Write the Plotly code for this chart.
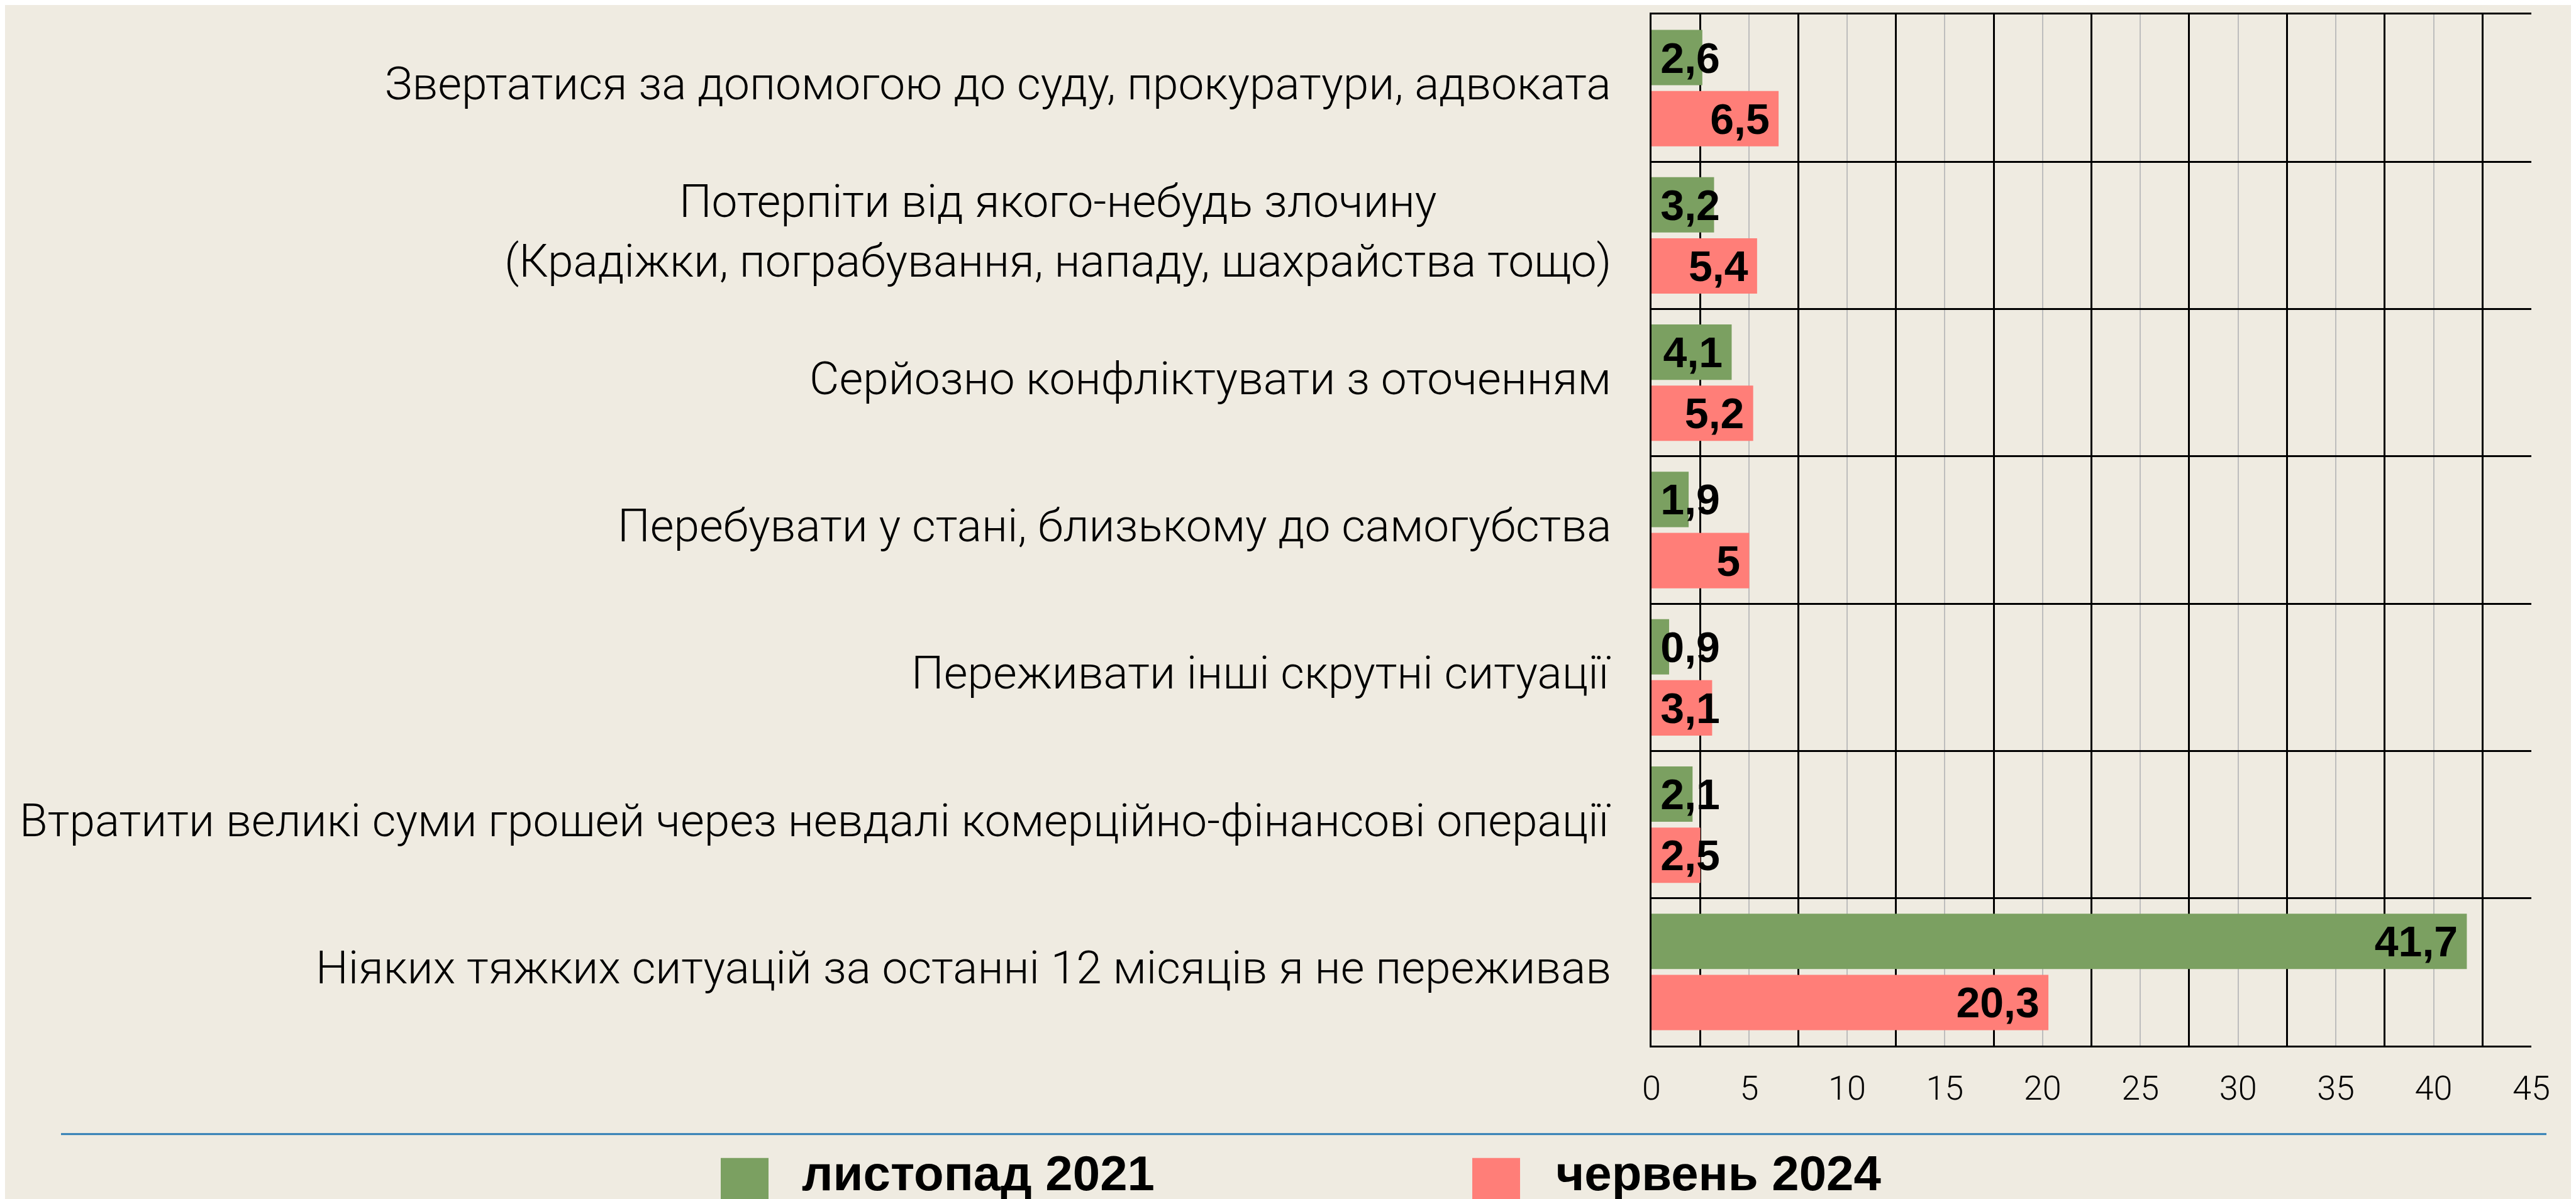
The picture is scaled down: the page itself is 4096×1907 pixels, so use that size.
import plotly.graph_objects as go

categories = [
    "Звертатися за допомогою до суду, прокуратури, адвоката",
    "Потерпіти від якого-небудь злочину\n(Крадіжки, пограбування, нападу, шахрайства тощо)",
    "Серйозно конфліктувати з оточенням",
    "Перебувати у стані, близькому до самогубства",
    "Переживати інші скрутні ситуації",
    "Втратити великі суми грошей через невдалі комерційно-фінансові операції",
    "Ніяких тяжких ситуацій за останні 12 місяців я не переживав",
]
series_names = ["листопад 2021", "червень 2024"]
values_2021 = [2.6, 3.2, 4.1, 1.9, 0.9, 2.1, 41.7]
values_2024 = [6.5, 5.4, 5.2, 5, 3.1, 2.5, 20.3]
x_ticks = [0, 5, 10, 15, 20, 25, 30, 35, 40, 45]

colors = ["#7BA061", "#FF7E78"]
BG = "#EFEBE1"

W, H = 4096, 1907
ML, MR, MT, MB = 2618, 79, 13, 252
PW, PH = W - ML - MR, H - MT - MB


def px_x(p):
    return (p - ML) / PW


def px_y(p):
    return 1 - (p - MT) / PH


def fmt(v):
    return f"{v:g}".replace(".", ",")


FIT_MIN = 3.5  # labels of shorter bars start at the bar base

fig = go.Figure()
VAL_FONT = dict(family="Liberation Sans, Arial, sans-serif", size=68, color="black", weight="bold")
for i, (name, vals) in enumerate(zip(series_names, [values_2021, values_2024])):
    ys = list(categories)
    fig.add_trace(go.Bar(
        name=name, x=vals, y=ys, orientation="h",
        marker=dict(color=colors[i], line=dict(width=0)),
        text=[fmt(v) + "\u2006" if v >= FIT_MIN else "" for v in vals],
        textposition="inside", insidetextanchor="end", textangle=0,
        constraintext="none", textfont=VAL_FONT, cliponaxis=False,
        offsetgroup=str(i), showlegend=False, hoverinfo="skip",
    ))
    fig.add_trace(go.Bar(
        name=name, x=vals, y=ys, orientation="h",
        marker=dict(color="rgba(0,0,0,0)", line=dict(width=0)),
        text=["\u2006" + fmt(v) if v < FIT_MIN else "" for v in vals],
        textposition="inside", insidetextanchor="start", textangle=0,
        constraintext="none", textfont=VAL_FONT, cliponaxis=False,
        offsetgroup=str(i), showlegend=False, hoverinfo="skip",
    ))

# category labels
LAB_FONT = dict(family="Roboto, sans-serif", size=73, color="black", weight=300)
annotations = []
for c in categories:
    annotations.append(dict(
        text=c.replace("\n", "<br>"), xref="paper", x=0, yref="y", y=c,
        xanchor="right", yanchor="middle", xshift=-62, yshift=7, align="center",
        showarrow=False, font=LAB_FONT,
    ))

# legend (custom, large swatches)
LEG_FONT = dict(family="Liberation Sans, Arial, sans-serif", size=78, color="black", weight="bold")
shapes = [dict(type="line", xref="paper", yref="paper",
               x0=px_x(89), x1=px_x(4041), y0=px_y(1796), y1=px_y(1796),
               line=dict(color="#2E7DB5", width=3))]
leg_sw_x = [1138, 2333]
leg_tx_x = [1265, 2464]
for i, name in enumerate(series_names):
    shapes.append(dict(type="rect", xref="paper", yref="paper",
                       x0=px_x(leg_sw_x[i]), x1=px_x(leg_sw_x[i] + 76),
                       y0=px_y(1834), y1=px_y(1930),
                       fillcolor=colors[i], line=dict(width=0), layer="above"))
    annotations.append(dict(text=name, xref="paper", yref="paper",
                            x=px_x(leg_tx_x[i]), y=px_y(1858),
                            xanchor="left", yanchor="middle", showarrow=False,
                            font=LEG_FONT))

fig.update_layout(
    width=W, height=H,
    margin=dict(l=ML, r=MR, t=MT, b=MB, pad=0),
    paper_bgcolor=BG, plot_bgcolor=BG,
    barmode="group", bargap=0.17, bargroupgap=0.094,
    showlegend=False,
    annotations=annotations, shapes=shapes,
    xaxis=dict(
        range=[0, 45], tickmode="array", tickvals=x_ticks,
        ticktext=[str(t) for t in x_ticks],
        showgrid=True, gridcolor="#BDBDBD", gridwidth=2,
        minor=dict(tick0=2.5, dtick=5, showgrid=True, gridcolor="black", gridwidth=2.5, ticks=""),
        showline=True, linecolor="black", linewidth=3, mirror=True,
        zeroline=False, ticks="", ticklabelstandoff=18,
        tickfont=dict(family="Roboto, sans-serif", size=54, color="black", weight=300),
        fixedrange=True,
    ),
    yaxis=dict(
        type="category", categoryorder="array", categoryarray=categories,
        autorange="reversed", showticklabels=False, ticks="",
        showgrid=True, tickson="boundaries", gridcolor="black", gridwidth=2.5,
        showline=True, linecolor="black", linewidth=3, mirror=False,
        zeroline=False, fixedrange=True,
    ),
    uniformtext=dict(mode=False),
)

fig.write_html("out.html", config=dict(displayModeBar=False))
